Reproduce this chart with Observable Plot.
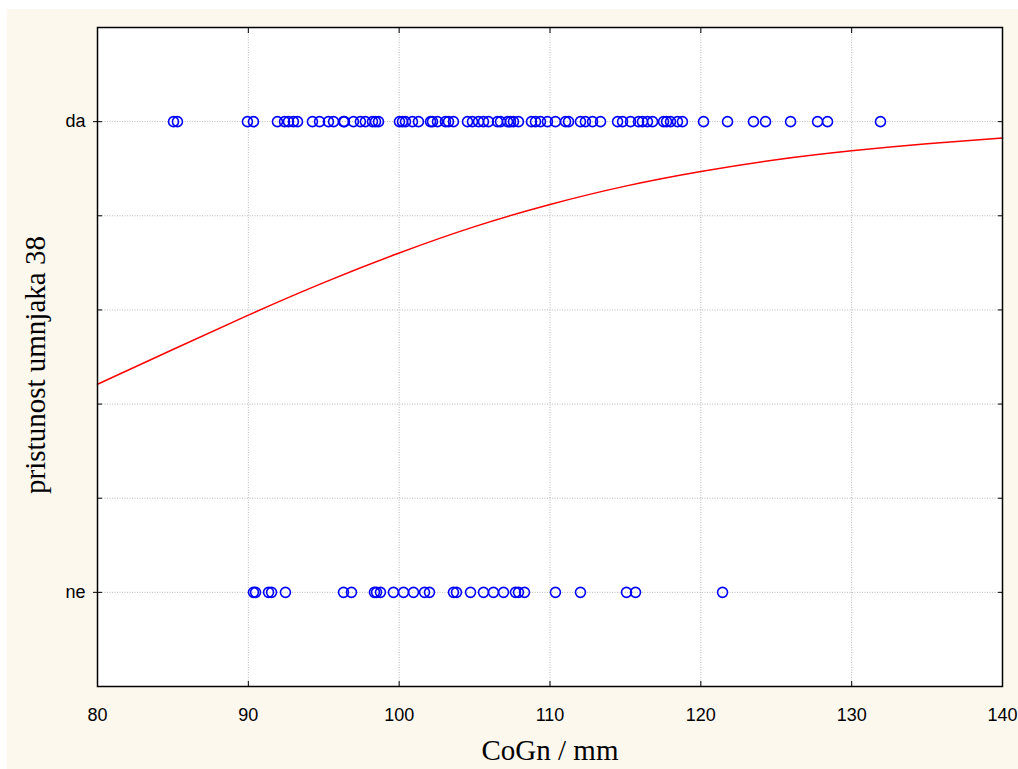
<!DOCTYPE html>
<html>
<head>
<meta charset="utf-8">
<script src="https://cdn.jsdelivr.net/npm/d3@7"></script>
<script src="https://cdn.jsdelivr.net/npm/@observablehq/plot@0.6"></script>
<style>
  html, body { margin: 0; padding: 0; background: #ffffff; }
  #wrap { position: absolute; left: 7px; top: 9px; width: 1011px; height: 760px; background: #fdf8ee; }
  #wrap svg { background: transparent; }
</style>
</head>
<body>
<div id="wrap"></div>
<script>
// ---- data ----
const daValues = [85.04, 85.30, 89.94, 90.34, 91.93, 92.40, 92.66, 92.99, 93.26, 94.25, 94.72, 95.31, 95.65, 96.31, 96.37, 96.97, 97.43, 97.76, 98.23, 98.43, 98.63, 100.02, 100.22, 100.42, 100.88, 101.28, 102.08, 102.21, 102.54, 103.07, 103.27, 103.60, 104.53, 104.86, 105.26, 105.59, 105.92, 106.52, 106.72, 107.18, 107.38, 107.58, 107.91, 108.77, 109.04, 109.37, 109.83, 110.36, 111.03, 111.23, 112.02, 112.35, 112.82, 113.35, 114.48, 114.81, 115.34, 115.87, 116.13, 116.46, 116.80, 117.53, 117.73, 117.99, 118.45, 118.78, 120.18, 121.77, 123.49, 124.29, 125.95, 127.74, 128.40, 131.91];
const neValues = [90.34, 90.48, 91.34, 91.54, 92.46, 96.31, 96.84, 98.36, 98.50, 98.76, 99.62, 100.29, 100.95, 101.68, 102.01, 103.60, 103.80, 104.73, 105.59, 106.25, 106.92, 107.71, 107.91, 108.31, 110.36, 112.02, 115.07, 115.67, 121.44];
const curveX = [80, 85, 90, 95, 100, 105, 110, 115, 120, 125, 130, 135, 140];
const curveP = [0.442, 0.516, 0.589, 0.658, 0.721, 0.777, 0.824, 0.863, 0.894, 0.919, 0.938, 0.953, 0.965];
const xTicks = [80, 90, 100, 110, 120, 130, 140];
const yGrid = [0, 0.2, 0.4, 0.6, 0.8, 1.0];
const yTickLabels = {0: "ne", 1: "da"};
const xLabel = "CoGn / mm";
const yLabel = "pristunost umnjaka 38";

const points = [
  ...daValues.map(v => ({x: v, y: 1})),
  ...neValues.map(v => ({x: v, y: 0}))
];
const curve = curveX.map((x, i) => ({x, p: curveP[i]}));

const chart = Plot.plot({
  width: 1011,
  height: 760,
  marginLeft: 90,
  marginTop: 18,
  marginRight: 16,
  marginBottom: 83,
  style: {background: "transparent"},
  x: {domain: [80, 140]},
  y: {domain: [-0.2, 1.2]},
  marks: [
    Plot.frame({fill: "#ffffff", stroke: "none"}),
    Plot.gridX(xTicks.slice(1, -1), {stroke: "#b8b8b8", strokeOpacity: 1, strokeDasharray: "1,1.5"}),
    Plot.gridY(yGrid, {stroke: "#b8b8b8", strokeOpacity: 1, strokeDasharray: "1,1.5"}),
    Plot.axisX(xTicks, {anchor: "bottom", tickSize: 0, tickPadding: 22, fontSize: 18, fontFamily: "Liberation Sans, Arial, sans-serif", fill: "#000", label: null}),
    Plot.axisX(xTicks, {anchor: "bottom", tickSize: -5, tickFormat: () => "", label: null, stroke: "#000"}),
    Plot.axisX(xTicks, {anchor: "top", tickSize: -5, tickFormat: () => "", label: null, stroke: "#000"}),
    Plot.axisY([0, 1], {anchor: "left", tickSize: 4, tickPadding: 8, tickFormat: d => yTickLabels[d], fontSize: 18, fontFamily: "Liberation Sans, Arial, sans-serif", fill: "#000", label: null}),
    Plot.axisY(yGrid, {anchor: "left", tickSize: -5, tickFormat: () => "", label: null, stroke: "#000"}),
    Plot.axisY(yGrid, {anchor: "right", tickSize: -5, tickFormat: () => "", label: null, stroke: "#000"}),
    Plot.line(curve, {x: "x", y: "p", stroke: "#ff0000", strokeWidth: 1.5, curve: "natural"}),
    Plot.dot(points, {x: "x", y: "y", r: 5, stroke: "#0000ff", strokeWidth: 1.6, fill: "none"}),
    Plot.frame({stroke: "#000", strokeWidth: 1.5}),
    Plot.text([xLabel], {frameAnchor: "bottom", dy: 73, fontSize: 29, fontFamily: "Liberation Serif, Times New Roman, serif", fill: "#000"}),
    Plot.text([yLabel], {frameAnchor: "left", dx: -62, dy: 8, rotate: -90, textAnchor: "middle", fontSize: 29, fontFamily: "Liberation Serif, Times New Roman, serif", fill: "#000"})
  ]
});
document.getElementById("wrap").appendChild(chart);
</script>
</body>
</html>
